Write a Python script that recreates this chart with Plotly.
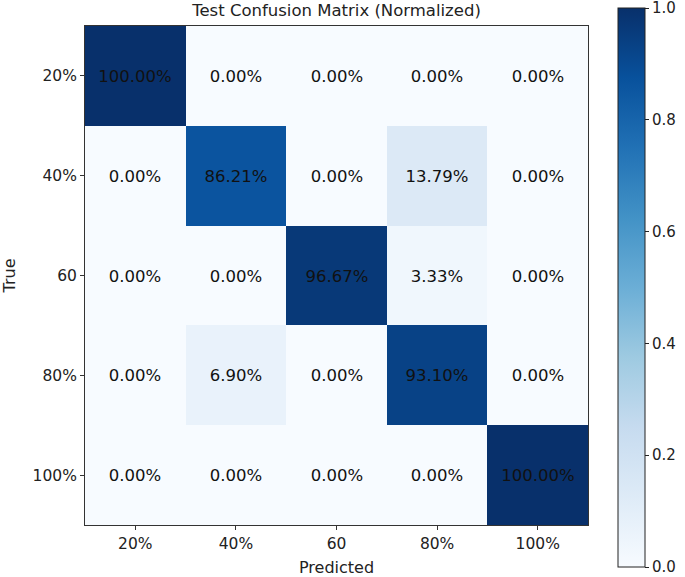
import plotly.graph_objects as go

labels = ["20%", "40%", "60", "80%", "100%"]
pred_labels = ["20%", "40%", "60", "80%", "100%"]
row_20 = [1.0, 0.0, 0.0, 0.0, 0.0]
row_40 = [0.0, 0.8621, 0.0, 0.1379, 0.0]
row_60 = [0.0, 0.0, 0.9667, 0.0333, 0.0]
row_80 = [0.0, 0.0690, 0.0, 0.9310, 0.0]
row_100 = [0.0, 0.0, 0.0, 0.0, 1.0]
matrix = [row_20, row_40, row_60, row_80, row_100]
cbar_ticks = [0.0, 0.2, 0.4, 0.6, 0.8, 1.0]

blues = ['rgb(247,251,255)', 'rgb(222,235,247)', 'rgb(198,219,239)', 'rgb(158,202,225)',
         'rgb(107,174,214)', 'rgb(66,146,198)', 'rgb(33,113,181)', 'rgb(8,81,156)', 'rgb(8,48,107)']
cscale = [[i / (len(blues) - 1), c] for i, c in enumerate(blues)]

text = [[f"{v*100:.2f}%" for v in row] for row in matrix]

FONT = "DejaVu Sans"
W, H = 685, 577
L, R, T, B = 85, 588, 26, 525

fig = go.Figure(go.Heatmap(
    z=matrix, x=pred_labels, y=labels,
    text=text, texttemplate="%{text}",
    textfont=dict(family=FONT, size=16.5, color="#111"),
    colorscale=cscale, zmin=0, zmax=1,
    colorbar=dict(
        x=(618 - L) / (R - L), xanchor="left", xref="paper",
        y=(B - 287.5) / (B - T), yanchor="middle",
        len=559, lenmode="pixels", thickness=27,
        xpad=0, ypad=0,
        outlinecolor="#222", outlinewidth=1,
        tickmode="array", tickvals=cbar_ticks,
        ticktext=[f"{t:.1f}" for t in cbar_ticks],
        ticklabeloverflow="allow",
        ticks="outside", ticklen=4, tickcolor="#222",
        tickfont=dict(family=FONT, size=15, color="#222"),
    ),
))

fig.update_layout(
    width=W, height=H,
    margin=dict(l=L, r=W - R, t=T, b=H - B, autoexpand=False),
    paper_bgcolor="white", plot_bgcolor="white",
    title=dict(text="Test Confusion Matrix (Normalized)", x=(L + R) / 2 / W, xanchor="center",
               y=1 - 10.5 / H, yanchor="middle", yref="container",
               font=dict(family=FONT, size=16.5, color="#222")),
    xaxis=dict(title=dict(text="Predicted", font=dict(family=FONT, size=16, color="#222"), standoff=10),
               showline=True, mirror=True, linecolor="#333", linewidth=1,
               ticks="outside", ticklen=4, tickcolor="#333", automargin=False,
               tickfont=dict(family=FONT, size=15.5, color="#222"), showgrid=False),
    yaxis=dict(title=dict(text="True", font=dict(family=FONT, size=16, color="#222"), standoff=12),
               autorange="reversed", automargin=False,
               showline=True, mirror=True, linecolor="#333", linewidth=1,
               ticks="outside", ticklen=4, tickcolor="#333",
               tickfont=dict(family=FONT, size=15.5, color="#222"), showgrid=False),
)

fig.write_html("out.html", config={"displayModeBar": False},
               post_script="document.body.style.margin='0';window.dispatchEvent(new Event('resize'));")
